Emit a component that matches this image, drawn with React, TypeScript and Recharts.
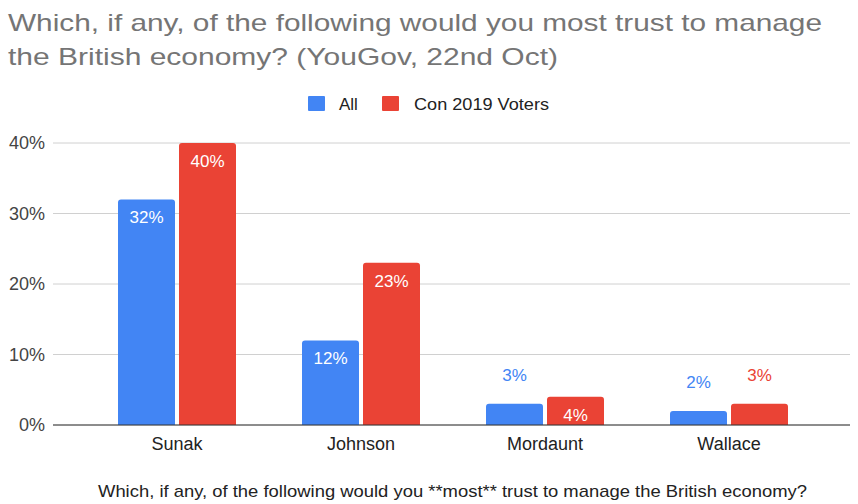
import React from 'react';
import { BarChart, Bar, XAxis, YAxis, CartesianGrid, LabelList } from 'recharts';

const candidates = ['Sunak', 'Johnson', 'Mordaunt', 'Wallace'];
const allVoters = [32, 12, 3, 2];
const con2019Voters = [40, 23, 4, 3];
const yTicks = [0, 10, 20, 30, 40];

const BLUE = '#4285F4';
const RED = '#EA4335';
const FONT = '"Liberation Sans", Arial, sans-serif';

const data = candidates.map((name, i) => ({
  name,
  all: allVoters[i],
  con: con2019Voters[i],
}));

// Google Sheets style: white label inside tall bars, coloured label above short ones
const makeLabel = (color: string) => (props: any) => {
  const { x, y, width, value } = props;
  const inside = value >= 4;
  return (
    <text
      x={x + width / 2}
      y={inside ? y + 18 : y - 29}
      dy="0.35em"
      textAnchor="middle"
      fontSize={17}
      fontFamily={FONT}
      fill={inside ? '#ffffff' : color}
    >
      {value}%
    </text>
  );
};

export default function App() {
  return (
    <div style={{ position: 'absolute', left: 0, top: 0, width: 858, height: 504, background: '#fff' }}>
      <BarChart
        width={858}
        height={504}
        data={data}
        margin={{ top: 143, right: 8, bottom: 49, left: 8 }}
        barCategoryGap={33}
        barGap={4}
      >
        <CartesianGrid vertical={false} stroke="#d0d0d0" />
        <XAxis
          dataKey="name"
          height={30}
          padding={{ left: 32, right: 29 }}
          tickLine={false}
          axisLine={{ stroke: '#333', strokeWidth: 1 }}
          tickMargin={6}
          tick={{ fontSize: 18, fill: '#222', fontFamily: FONT }}
        />
        <YAxis
          width={45}
          domain={[0, 40]}
          ticks={yTicks}
          tickFormatter={(v: number) => `${v}%`}
          axisLine={false}
          tickLine={false}
          tick={{ fontSize: 18, fill: '#444', fontFamily: FONT }}
        />
        <Bar dataKey="all" name="All" fill={BLUE} radius={[3, 3, 0, 0]} isAnimationActive={false}>
          <LabelList dataKey="all" content={makeLabel(BLUE)} />
        </Bar>
        <Bar dataKey="con" name="Con 2019 Voters" fill={RED} radius={[3, 3, 0, 0]} isAnimationActive={false}>
          <LabelList dataKey="con" content={makeLabel(RED)} />
        </Bar>
      </BarChart>

      <svg
        width={858}
        height={504}
        style={{ position: 'absolute', left: 0, top: 0, pointerEvents: 'none' }}
      >
        {/* title */}
        <text x={8} y={31} fontSize={24} fontFamily={FONT} fill="#757575" textLength={814} lengthAdjust="spacingAndGlyphs">
          Which, if any, of the following would you most trust to manage
        </text>
        <text x={8} y={65} fontSize={24} fontFamily={FONT} fill="#757575" textLength={550} lengthAdjust="spacingAndGlyphs">
          the British economy? (YouGov, 22nd Oct)
        </text>

        {/* legend */}
        <rect x={308} y={96} width={17} height={15} rx={1} fill={BLUE} />
        <text x={339} y={110} fontSize={17} fontFamily={FONT} fill="#222">All</text>
        <rect x={382} y={96} width={17} height={15} rx={1} fill={RED} />
        <text x={414} y={110} fontSize={17} fontFamily={FONT} fill="#222" textLength={135} lengthAdjust="spacingAndGlyphs">
          Con 2019 Voters
        </text>

        {/* axis title */}
        <text x={98} y={497} fontSize={17} fontFamily={FONT} fill="#222" textLength={709} lengthAdjust="spacingAndGlyphs">
          Which, if any, of the following would you **most** trust to manage the British economy?
        </text>
      </svg>
    </div>
  );
}
